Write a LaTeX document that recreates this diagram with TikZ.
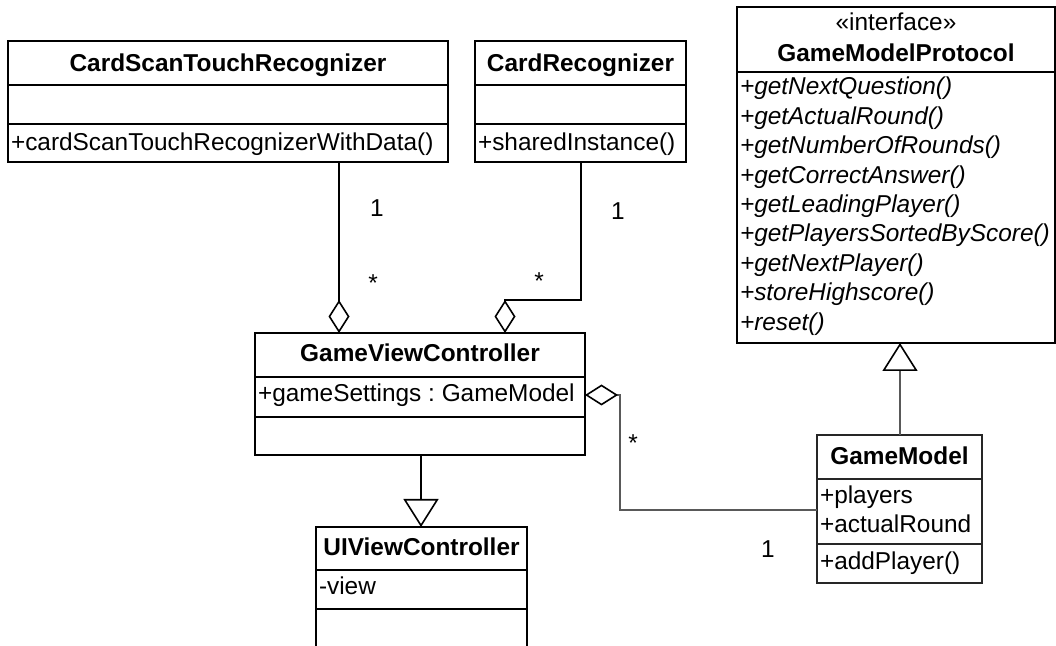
\documentclass[tikz,border=0pt]{standalone}
\usepackage{fontspec}
\setmainfont{Liberation Sans}
\usetikzlibrary{arrows.meta}
\frenchspacing

\begin{document}
\begin{tikzpicture}[x=0.5pt,y=-0.5pt,line width=0.75pt,
  every node/.style={font=\fontsize{12.2}{14}\selectfont,inner sep=0pt,outer sep=0pt},
  classbox/.style={draw,line width=0.8pt,minimum width=#1},
  ctitle/.style={anchor=base,font=\fontsize{12.2}{14}\selectfont\bfseries},
  member/.style={anchor=base west},
  mult/.style={anchor=base},
  agg/.style={-{Diamond[open,length=16.5pt,width=10.5pt,line width=0.8pt,color=black]}},
  gen/.style={-{Triangle[open,length=14pt,width=17.5pt,line width=0.8pt,color=black]}}]
  \useasboundingbox (0,0) rectangle (1056,646);

  % classes
  \node[classbox=220pt,minimum height=60.5pt] (scan) at (228,101.5) {};
  \node[classbox=105.5pt,minimum height=60.5pt] (recog) at (580.5,101.5) {};
  \node[classbox=159pt,minimum height=168pt] (proto) at (896,175) {};
  \node[classbox=165pt,minimum height=61pt] (gvc) at (420,394) {};
  \node[classbox=105.5pt,minimum height=81.5pt] (uivc) at (421.5,608.5) {};
  \node[classbox=82.5pt,minimum height=74pt,draw=black!85] (model) at (899.5,509) {};

  % compartments
  \draw (scan.west |- 0,85) -- (scan.east |- 0,85);
  \draw (scan.west |- 0,124) -- (scan.east |- 0,124);
  \draw (recog.west |- 0,85) -- (recog.east |- 0,85);
  \draw (recog.west |- 0,124) -- (recog.east |- 0,124);
  \draw (proto.west |- 0,72) -- (proto.east |- 0,72);
  \draw (gvc.west |- 0,377) -- (gvc.east |- 0,377);
  \draw (gvc.west |- 0,417) -- (gvc.east |- 0,417);
  \draw (uivc.west |- 0,570) -- (uivc.east |- 0,570);
  \draw (uivc.west |- 0,609) -- (uivc.east |- 0,609);
  \draw[black!85] (model.west |- 0,479) -- (model.east |- 0,479);
  \draw[black!85] (model.west |- 0,544) -- (model.east |- 0,544);

  % texts
  \node[ctitle] (scantitle) at (228,72) {CardScanTouchRecognizer};
  \node[member] (scanop) at (11,151) {+cardScanTouchRecognizerWithData()};
  \node[ctitle] (recogtitle) at (580.5,72) {CardRecognizer};
  \node[member] (recogop) at (478,151) {+sharedInstance()};
  \node[anchor=base] (stereo) at (896,31) {«interface»};
  \node[ctitle] (prototitle) at (896,62) {GameModelProtocol};
  \foreach \op [count=\i from 0] in {getNextQuestion(),getActualRound(),getNumberOfRounds(),
      getCorrectAnswer(),getLeadingPlayer(),getPlayersSortedByScore(),getNextPlayer(),
      storeHighscore(),reset()}
    \node[member,font=\fontsize{12.2}{14}\selectfont\itshape] (protoop\i) at (740,95+29.4*\i) {+\op};
  \node[ctitle] (gvctitle) at (420,362) {GameViewController};
  \node[member] (gvcattr) at (258,402) {+gameSettings : GameModel};
  \node[ctitle] (uivctitle) at (421.5,556) {UIViewController};
  \node[member] (uivcattr) at (319,595) {-view};
  \node[ctitle] (modeltitle) at (899.5,465) {GameModel};
  \node[member] (modelattra) at (820,504) {+players};
  \node[member] (modelattrb) at (820,533) {+actualRound};
  \node[member] (modelop) at (820,570) {+addPlayer()};

  % relations
  \draw[agg] (scan.south -| 339,0) -- (gvc.north -| 339,0);
  \draw[agg] (recog.south -| 581,0) -- ++(0,138) -| (gvc.north -| 505,0);
  \draw[agg,black!65] (model.west |- 0,510) -| (620,395) -- (gvc.east |- 0,395);
  \draw[gen] (gvc.south -| 421,0) -- (uivc.north -| 421,0);
  \draw[gen,black!65] (model.north -| 900,0) -- (proto.south -| 900,0);

  % multiplicities
  \node[mult] (scanone) at (377,217) {1};
  \node[mult] (scanmany) at (373,292) {*};
  \node[mult] (recogone) at (618,220) {1};
  \node[mult] (recogmany) at (539,290) {*};
  \node[mult] (modelmany) at (633,452) {*};
  \node[mult] (modelone) at (768,558) {1};
\end{tikzpicture}
\end{document}
